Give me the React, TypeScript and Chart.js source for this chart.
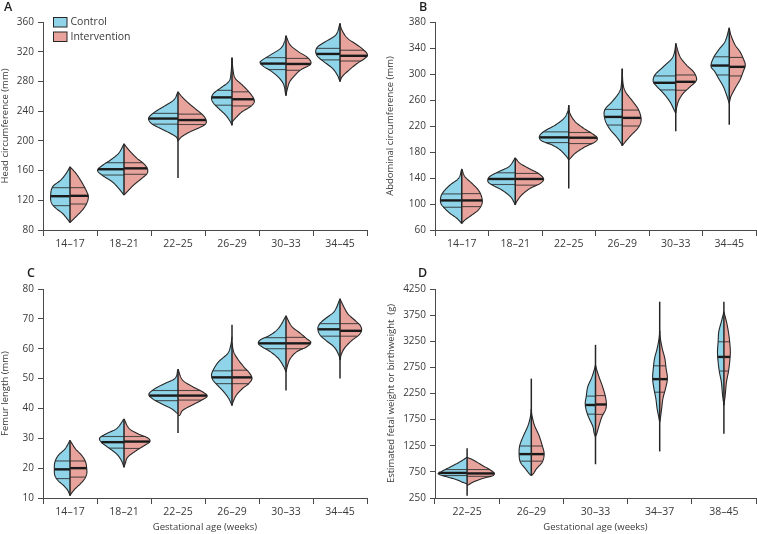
import React, { useEffect, useRef } from 'react';
import { Chart, registerables } from 'chart.js';

Chart.register(...registerables);

type Knot = [number, number]; // [value, half-width as fraction of category width]

const groupNames = ['Control', 'Intervention'];
const groupFills = ['#8FD4E8', '#E8A49C'];

// ---------- Panel A: head circumference ----------
const headCategories = ['14–17', '18–21', '22–25', '26–29', '30–33', '34–45'];
const headYTicks = [80, 120, 160, 200, 240, 280, 320, 360];
const headControl: Knot[][] = [
  [[90, 0], [95.7, 0.06], [102.4, 0.14], [109.2, 0.26], [115.9, 0.34], [124.9, 0.36], [138.3, 0.32], [147.3, 0.17], [156.3, 0.07], [165, 0]],
  [[127, 0], [136.1, 0.1], [145, 0.22], [154, 0.41], [160.5, 0.49], [167.5, 0.39], [174.2, 0.25], [183.2, 0.1], [196, 0]],
  [[200, 0], [205, 0.03], [210, 0.14], [216.9, 0.33], [222.7, 0.48], [228, 0.54], [232.6, 0.53], [239.3, 0.42], [246, 0.27], [255, 0.08], [266, 0]],
  [[221, 0], [225.8, 0.03], [234.8, 0.12], [243.8, 0.25], [250.5, 0.34], [257.2, 0.38], [264, 0.34], [270.7, 0.22], [279.7, 0.06], [290, 0.02], [312, 0]],
  [[261, 0], [264, 0.01], [275.2, 0.04], [284.2, 0.12], [293.1, 0.26], [299.9, 0.41], [305.3, 0.48], [308.8, 0.44], [315.6, 0.29], [324.5, 0.1], [333, 0.03], [341.6, 0]],
  [[280, 0], [288.6, 0.05], [297.6, 0.14], [306.6, 0.3], [313.3, 0.41], [320, 0.45], [326.8, 0.41], [333.5, 0.27], [342.5, 0.08], [358, 0]],
];
const headIntervention: Knot[][] = [
  [[90, 0], [97.9, 0.11], [106.9, 0.23], [115.9, 0.31], [124.9, 0.34], [131.6, 0.31], [142.8, 0.23], [156.3, 0.11], [165, 0]],
  [[127, 0], [131.6, 0.06], [140.6, 0.18], [149.5, 0.33], [156.3, 0.43], [163, 0.43], [169.7, 0.36], [176.5, 0.24], [187.7, 0.09], [196, 0]],
  [[200, 0], [205.6, 0.07], [212.4, 0.23], [218.2, 0.41], [222.7, 0.51], [228, 0.52], [234.8, 0.46], [241.5, 0.35], [250.5, 0.2], [259.5, 0.07], [266, 0]],
  [[221, 0], [225.8, 0.01], [232.5, 0.09], [239.3, 0.19], [246, 0.34], [251.8, 0.41], [257.2, 0.4], [266.2, 0.31], [275.2, 0.19], [284.2, 0.06], [295, 0.02], [312, 0]],
  [[261, 0], [268.5, 0.02], [279.7, 0.07], [288.6, 0.17], [295.4, 0.27], [302.1, 0.44], [306.6, 0.46], [313.3, 0.38], [320, 0.23], [329, 0.08], [341.6, 0]],
  [[280, 0], [286.4, 0.04], [295.4, 0.17], [304.3, 0.32], [311.1, 0.46], [315.6, 0.51], [322.3, 0.44], [329, 0.32], [338, 0.14], [350, 0.03], [358, 0]],
];
const headControlQuartiles = [[112.8, 125.5, 137], [154, 161.8, 170.6], [222.5, 230, 237], [248, 258.5, 268], [296, 304, 312], [309, 317, 324.5]];
const headInterventionQuartiles = [[115, 126, 137], [155, 163, 170.6], [222, 228, 236], [247, 256, 266], [295, 303.5, 311], [307.5, 314.5, 322]];
const headRange = [[90, 165], [127, 196], [150, 266], [221, 312], [261, 341.6], [280, 358]];

// ---------- Panel B: abdominal circumference ----------
const abdomenCategories = ['14–17', '18–21', '22–25', '26–29', '30–33', '34–45'];
const abdomenYTicks = [60, 100, 140, 180, 220, 260, 300, 340, 380];
const abdomenControl: Knot[][] = [
  [[70, 0], [77.9, 0.09], [85.6, 0.22], [93.3, 0.32], [101, 0.39], [111.3, 0.39], [119, 0.34], [129.2, 0.22], [139.5, 0.06], [154, 0]],
  [[98.5, 0], [103.6, 0.03], [111.3, 0.09], [121.5, 0.25], [129.2, 0.43], [134.4, 0.51], [142, 0.48], [149.7, 0.31], [157.4, 0.12], [171, 0]],
  [[168, 0], [172.8, 0.04], [183.1, 0.16], [190.8, 0.31], [196.9, 0.5], [203.6, 0.55], [211.3, 0.47], [221.5, 0.25], [231.8, 0.09], [242, 0.02], [252, 0]],
  [[189.7, 0], [193.3, 0.02], [203.6, 0.11], [213.8, 0.22], [226.7, 0.31], [239.5, 0.34], [247.2, 0.31], [257.4, 0.19], [272.8, 0.05], [285, 0.015], [308, 0]],
  [[239.5, 0], [244.6, 0.03], [257.4, 0.11], [270.3, 0.23], [280.5, 0.35], [288.2, 0.42], [298.5, 0.39], [311.3, 0.23], [324.1, 0.07], [335, 0.02], [347, 0]],
  [[254.9, 0], [267.7, 0.05], [280.5, 0.11], [293.3, 0.2], [303.6, 0.27], [311.3, 0.34], [324.1, 0.3], [336.9, 0.2], [349.7, 0.08], [371, 0]],
];
const abdomenIntervention: Knot[][] = [
  [[70, 0], [75.4, 0.06], [83.1, 0.19], [90.8, 0.31], [101, 0.38], [111.3, 0.37], [121.5, 0.31], [131.8, 0.19], [142, 0.06], [154, 0]],
  [[98.5, 0], [104, 0.03], [113.8, 0.12], [124.1, 0.28], [131.8, 0.47], [138.5, 0.53], [147.2, 0.43], [154.9, 0.25], [162.6, 0.09], [171, 0]],
  [[168, 0], [170.3, 0.03], [178, 0.12], [188.2, 0.31], [195.9, 0.5], [202, 0.53], [208.7, 0.43], [216.4, 0.28], [226.7, 0.12], [240, 0.02], [252, 0]],
  [[189.7, 0], [195.9, 0.06], [206.2, 0.17], [216.4, 0.29], [226.7, 0.35], [236.9, 0.34], [247.2, 0.29], [257.4, 0.2], [272.8, 0.06], [285, 0.015], [308, 0]],
  [[239.5, 0], [249.7, 0.02], [260, 0.06], [270.3, 0.14], [280.5, 0.27], [288.2, 0.37], [293.3, 0.39], [303.6, 0.33], [313.8, 0.2], [326.7, 0.08], [347, 0]],
  [[254.9, 0], [265.1, 0.03], [278, 0.11], [290.8, 0.2], [303.6, 0.26], [313.8, 0.3], [324.1, 0.26], [334.4, 0.2], [344.6, 0.11], [360, 0.03], [371, 0]],
];
const abdomenControlQuartiles = [[95, 105.5, 115.5], [130, 138.5, 148], [194.5, 202.5, 211], [221.5, 234, 245.5], [275.5, 286.5, 297], [298.5, 313, 326.5]];
const abdomenInterventionQuartiles = [[96, 105.5, 116], [129, 138.5, 147], [193, 202, 210], [220, 232.5, 244.5], [275, 288, 298.5], [297, 311, 325.5]];
const abdomenRange = [[70, 154], [98.5, 171], [124, 252], [189.7, 308], [212, 347], [222, 371]];

// ---------- Panel C: femur length ----------
const femurCategories = ['14–17', '18–21', '22–25', '26–29', '30–33', '34–45'];
const femurYTicks = [10, 20, 30, 40, 50, 60, 70, 80];
const femurControl: Knot[][] = [
  [[10.8, 0], [12.5, 0.04], [14.2, 0.12], [15.8, 0.22], [17.5, 0.28], [19.75, 0.29], [22, 0.28], [24.2, 0.22], [26.5, 0.09], [29.3, 0]],
  [[20.3, 0], [22.6, 0.05], [24.8, 0.14], [27, 0.3], [28.7, 0.42], [30.1, 0.45], [31.5, 0.33], [33.2, 0.14], [36.5, 0]],
  [[38.2, 0], [38.6, 0.03], [39.9, 0.12], [41.6, 0.31], [43.1, 0.46], [44.7, 0.54], [46.6, 0.43], [48.3, 0.25], [50, 0.06], [53.1, 0]],
  [[41, 0], [43.3, 0.06], [45.5, 0.15], [47.8, 0.27], [49.4, 0.35], [51.1, 0.38], [52.8, 0.35], [55.6, 0.25], [58.4, 0.08], [61, 0.025], [64, 0]],
  [[52.2, 0], [53.9, 0.04], [56.7, 0.14], [59, 0.29], [60.6, 0.44], [61.7, 0.51], [62.9, 0.48], [64.6, 0.29], [66.8, 0.14], [71, 0]],
  [[56.2, 0], [57.8, 0.02], [60.6, 0.11], [62.9, 0.27], [64.6, 0.37], [66.8, 0.41], [68.5, 0.37], [70.1, 0.27], [72.4, 0.11], [76.7, 0]],
];
const femurIntervention: Knot[][] = [
  [[10.8, 0], [11.4, 0.02], [13, 0.09], [14.7, 0.19], [16.4, 0.27], [18.1, 0.31], [19.75, 0.31], [22, 0.29], [24.2, 0.22], [26.5, 0.1], [29.3, 0]],
  [[20.3, 0], [21.4, 0.02], [23.7, 0.07], [25.9, 0.23], [27.6, 0.38], [28.9, 0.48], [30.1, 0.44], [31.5, 0.26], [33.2, 0.1], [36.5, 0]],
  [[37.5, 0], [37.7, 0.03], [39.4, 0.09], [41, 0.25], [42.7, 0.43], [44.1, 0.54], [45.5, 0.46], [47.2, 0.28], [49.4, 0.09], [53.1, 0]],
  [[41, 0], [42.2, 0.02], [44.4, 0.08], [46.6, 0.19], [48.3, 0.31], [50, 0.37], [51.7, 0.33], [53.9, 0.22], [56.7, 0.1], [59, 0.03], [62, 0]],
  [[52.2, 0], [54.5, 0.03], [56.7, 0.08], [59, 0.2], [60.6, 0.38], [62.1, 0.46], [63.4, 0.38], [65.1, 0.27], [67.4, 0.11], [71, 0]],
  [[56.2, 0], [58.4, 0.03], [60.6, 0.1], [62.9, 0.23], [64.6, 0.35], [66.2, 0.4], [67.9, 0.37], [69.6, 0.27], [71.8, 0.14], [76.7, 0]],
];
const femurControlQuartiles = [[16.5, 19.6, 22.4], [26.7, 28.7, 30.6], [42.6, 44.3, 46], [48.3, 50.4, 52.6], [60, 61.8, 63.7], [64.2, 66.5, 68.4]];
const femurInterventionQuartiles = [[17, 20, 22.4], [26.6, 28.9, 30.6], [42.8, 44.3, 46], [48.3, 50.4, 52.8], [60, 61.8, 63.8], [64.2, 66, 68.4]];
const femurRange = [[10.8, 29.3], [20.3, 36.5], [31.8, 53.1], [41, 68], [46, 71], [50, 76.7]];

// ---------- Panel D: estimated fetal weight or birthweight ----------
const weightCategories = ['22–25', '26–29', '30–33', '34–37', '38–45'];
const weightYTicks = [250, 750, 1250, 1750, 2250, 2750, 3250, 3750, 4250];
const weightControl: Knot[][] = [
  [[519, 0], [551, 0.07], [603, 0.17], [667, 0.35], [711, 0.45], [756, 0.4], [839, 0.27], [935, 0.12], [1031, 0]],
  [[679, 0], [711, 0.03], [807, 0.09], [935, 0.17], [1095, 0.19], [1255, 0.18], [1447, 0.12], [1639, 0.05], [1831, 0.01], [1950, 0]],
  [[1421, 0], [1485, 0.02], [1613, 0.04], [1805, 0.11], [1933, 0.145], [2061, 0.16], [2189, 0.145], [2381, 0.12], [2550, 0.06], [2701, 0.02], [2800, 0]],
  [[1703, 0], [1767, 0.01], [1959, 0.04], [2151, 0.06], [2343, 0.09], [2535, 0.11], [2727, 0.1], [2919, 0.08], [3111, 0.04], [3303, 0.01], [3450, 0]],
  [[2023, 0], [2215, 0.02], [2471, 0.04], [2663, 0.07], [2855, 0.09], [3047, 0.1], [3239, 0.09], [3431, 0.08], [3623, 0.04], [3815, 0]],
];
const weightIntervention: Knot[][] = [
  [[487, 0], [551, 0.09], [615, 0.22], [679, 0.4], [731, 0.42], [795, 0.35], [871, 0.24], [967, 0.11], [1031, 0]],
  [[679, 0], [711, 0.03], [807, 0.08], [935, 0.17], [1095, 0.2], [1255, 0.17], [1447, 0.12], [1639, 0.05], [1831, 0.01], [1950, 0]],
  [[1421, 0], [1485, 0.02], [1613, 0.05], [1805, 0.1], [1933, 0.155], [2029, 0.17], [2189, 0.155], [2381, 0.11], [2550, 0.06], [2701, 0.02], [2800, 0]],
  [[1703, 0], [1767, 0.01], [1959, 0.03], [2151, 0.05], [2343, 0.09], [2535, 0.12], [2727, 0.1], [2919, 0.08], [3111, 0.04], [3303, 0.01], [3450, 0]],
  [[2023, 0], [2215, 0.02], [2471, 0.04], [2663, 0.07], [2855, 0.09], [3047, 0.1], [3239, 0.09], [3431, 0.07], [3623, 0.04], [3815, 0]],
];
const weightControlQuartiles = [[680, 730, 795], [955, 1090, 1245], [1855, 2030, 2200], [2275, 2525, 2780], [2680, 2950, 3240]];
const weightInterventionQuartiles = [[665, 720, 795], [955, 1090, 1245], [1850, 2040, 2210], [2275, 2525, 2780], [2680, 2950, 3240]];
const weightRange = [[295, 1200], [679, 2535], [896, 3181], [1141, 4007], [1479, 4007]];

// ---------- styling ----------
const FONT = "'Open Sans', 'Noto Sans', sans-serif";
const INK = '#262626';
const AXIS = '#4a4a4a';
const TEXT = '#3a3a3a';

interface Panel {
  letter: string;
  letterPos: [number, number];
  categories: string[];
  yTicks: number[];
  yTitle: string;
  yTitlePad: number;
  xTitle?: string;
  control: Knot[][];
  intervention: Knot[][];
  controlQ: number[][];
  interventionQ: number[][];
  range: number[][];
  legend: boolean;
  box: { x: number; y: number; w: number; h: number };
  area: { left: number; top: number; right: number; bottom: number };
}

const panels: Panel[] = [
  {
    letter: 'A', letterPos: [4, 11], categories: headCategories, yTicks: headYTicks,
    yTitle: 'Head circumference (mm)', yTitlePad: 0,
    control: headControl, intervention: headIntervention,
    controlQ: headControlQuartiles, interventionQ: headInterventionQuartiles, range: headRange, legend: true,
    box: { x: 0, y: 0, w: 378, h: 260 }, area: { left: 43, top: 22, right: 367, bottom: 230 },
  },
  {
    letter: 'B', letterPos: [41, 11], categories: abdomenCategories, yTicks: abdomenYTicks,
    yTitle: 'Abdominal circumference (mm)', yTitlePad: 7,
    control: abdomenControl, intervention: abdomenIntervention,
    controlQ: abdomenControlQuartiles, interventionQ: abdomenInterventionQuartiles, range: abdomenRange, legend: false,
    box: { x: 378, y: 0, w: 379, h: 260 }, area: { left: 57, top: 22, right: 378, bottom: 230 },
  },
  {
    letter: 'C', letterPos: [27, 17], categories: femurCategories, yTicks: femurYTicks,
    yTitle: 'Femur length (mm)', yTitlePad: 0, xTitle: 'Gestational age (weeks)',
    control: femurControl, intervention: femurIntervention,
    controlQ: femurControlQuartiles, interventionQ: femurInterventionQuartiles, range: femurRange, legend: false,
    box: { x: 0, y: 260, w: 378, h: 274 }, area: { left: 43, top: 29, right: 367, bottom: 238 },
  },
  {
    letter: 'D', letterPos: [40, 17], categories: weightCategories, yTicks: weightYTicks,
    yTitle: 'Estimated fetal weight or birthweight  (g)', yTitlePad: 8, xTitle: 'Gestational age (weeks)',
    control: weightControl, intervention: weightIntervention,
    controlQ: weightControlQuartiles, interventionQ: weightInterventionQuartiles, range: weightRange, legend: false,
    box: { x: 378, y: 260, w: 379, h: 274 }, area: { left: 57, top: 29, right: 378, bottom: 238 },
  },
];

// Smooth density profile (cubic Hermite through the knots)
function widthAt(profile: Knot[], v: number): number {
  const n = profile.length;
  if (v <= profile[0][0] || v >= profile[n - 1][0]) return 0;
  let i = 0;
  while (i < n - 2 && v > profile[i + 1][0]) i++;
  const slope = (k: number) => {
    if (k === 0) return (profile[1][1] - profile[0][1]) / (profile[1][0] - profile[0][0]);
    if (k === n - 1) return (profile[n - 1][1] - profile[n - 2][1]) / (profile[n - 1][0] - profile[n - 2][0]);
    return (profile[k + 1][1] - profile[k - 1][1]) / (profile[k + 1][0] - profile[k - 1][0]);
  };
  const [x0, y0] = profile[i];
  const [x1, y1] = profile[i + 1];
  const h = x1 - x0;
  const t = (v - x0) / h;
  const m0 = slope(i) * h;
  const m1 = slope(i + 1) * h;
  const t2 = t * t;
  const t3 = t2 * t;
  const y = (2 * t3 - 3 * t2 + 1) * y0 + (t3 - 2 * t2 + t) * m0 + (-2 * t3 + 3 * t2) * y1 + (t3 - t2) * m1;
  return Math.max(0, y);
}

const splitViolinPlugin = {
  id: 'splitViolins',
  afterDatasetsDraw(chart: any, _args: any, opts: any) {
    const p: Panel = opts.panel;
    if (!p) return;
    const ctx: CanvasRenderingContext2D = chart.ctx;
    const xs = chart.scales.x;
    const ys = chart.scales.y;
    const n = p.categories.length;
    const catW = (xs.right - xs.left) / n;
    ctx.save();
    ctx.lineJoin = 'round';
    ctx.lineCap = 'butt';
    for (let i = 0; i < n; i++) {
      const cx = xs.getPixelForValue(i);
      const halves = [p.control[i], p.intervention[i]];
      const quarts = [p.controlQ[i], p.interventionQ[i]];
      halves.forEach((prof, g) => {
        const sign = g === 0 ? -1 : 1;
        const v0 = prof[0][0];
        const v1 = prof[prof.length - 1][0];
        const N = 120;
        const pts: [number, number][] = [];
        for (let k = 0; k <= N; k++) {
          const v = v0 + ((v1 - v0) * k) / N;
          pts.push([cx + sign * widthAt(prof, v) * catW, ys.getPixelForValue(v)]);
        }
        ctx.beginPath();
        ctx.moveTo(cx, pts[0][1]);
        pts.forEach(([px, py]) => ctx.lineTo(px, py));
        ctx.lineTo(cx, pts[pts.length - 1][1]);
        ctx.closePath();
        ctx.fillStyle = groupFills[g];
        ctx.fill();
        const [q1, med, q3] = quarts[g];
        [q1, q3].forEach((q) => {
          const w = widthAt(prof, q) * catW;
          const py = ys.getPixelForValue(q);
          ctx.beginPath();
          ctx.moveTo(cx, py);
          ctx.lineTo(cx + sign * w, py);
          ctx.strokeStyle = 'rgba(45,45,45,0.8)';
          ctx.lineWidth = 1.1;
          ctx.stroke();
        });
        {
          const w = widthAt(prof, med) * catW;
          const py = ys.getPixelForValue(med);
          ctx.beginPath();
          ctx.moveTo(cx, py);
          ctx.lineTo(cx + sign * w, py);
          ctx.strokeStyle = '#1a1a1a';
          ctx.lineWidth = 2.4;
          ctx.stroke();
        }
        ctx.beginPath();
        pts.forEach(([px, py], k) => (k === 0 ? ctx.moveTo(px, py) : ctx.lineTo(px, py)));
        ctx.strokeStyle = INK;
        ctx.lineWidth = 1.1;
        ctx.stroke();
      });
      const [lo, hi] = p.range[i];
      ctx.beginPath();
      ctx.moveTo(cx, ys.getPixelForValue(lo));
      ctx.lineTo(cx, ys.getPixelForValue(hi));
      ctx.strokeStyle = INK;
      ctx.lineWidth = 1.5;
      ctx.stroke();
    }
    ctx.restore();
  },
  afterDraw(chart: any, _args: any, opts: any) {
    const p: Panel = opts.panel;
    if (!p) return;
    const ctx: CanvasRenderingContext2D = chart.ctx;
    const area = chart.chartArea;
    ctx.save();
    ctx.fillStyle = '#1e1e1e';
    ctx.font = `600 12.5px ${FONT}`;
    ctx.textBaseline = 'alphabetic';
    ctx.textAlign = 'left';
    ctx.fillText(p.letter, p.letterPos[0], p.letterPos[1]);
    if (p.legend) {
      groupNames.forEach((name, g) => {
        const bx = area.left + 10.5;
        const by = area.top - 4.5 + g * 14.5;
        ctx.fillStyle = groupFills[g];
        ctx.fillRect(bx, by, 13.5, 9.5);
        ctx.strokeStyle = INK;
        ctx.lineWidth = 1;
        ctx.strokeRect(bx, by, 13.5, 9.5);
        ctx.fillStyle = TEXT;
        ctx.font = `10.5px ${FONT}`;
        ctx.textBaseline = 'middle';
        ctx.fillText(name, bx + 17, by + 5);
      });
    }
    ctx.restore();
  },
};

function PanelChart({ panel }: { panel: Panel }) {
  const ref = useRef<HTMLCanvasElement>(null);
  useEffect(() => {
    const canvas = ref.current;
    if (!canvas) return;
    const yt = panel.yTicks;
    const chart = new Chart(canvas, {
      type: 'line',
      data: { labels: panel.categories, datasets: [] },
      plugins: [splitViolinPlugin as any],
      options: {
        responsive: false,
        animation: false,
        devicePixelRatio: 1,
        layout: {
          padding: { left: 0, top: panel.area.top, right: panel.box.w - panel.area.right, bottom: 0 },
        },
        plugins: {
          legend: { display: false },
          tooltip: { enabled: false },
          title: { display: false },
          splitViolins: { panel },
        } as any,
        scales: {
          x: {
            type: 'category',
            offset: true,
            grid: { offset: true, drawOnChartArea: false, drawTicks: true, tickLength: 6, color: AXIS, lineWidth: 1 },
            border: { display: true, color: AXIS, width: 1 },
            ticks: { color: TEXT, font: { family: FONT, size: 10.5 }, padding: 2, maxRotation: 0, autoSkip: false },
            title: panel.xTitle
              ? { display: true, text: panel.xTitle, color: TEXT, font: { family: FONT, size: 9.5 }, padding: { top: 0, bottom: 1 } }
              : { display: false },
            afterFit: (s: any) => {
              s.height = panel.box.h - panel.area.bottom;
            },
          } as any,
          y: {
            type: 'linear',
            min: yt[0],
            max: yt[yt.length - 1],
            ticks: {
              stepSize: yt[1] - yt[0],
              color: TEXT,
              font: { family: FONT, size: 10 },
              padding: 4,
              callback: (v: any) => String(v),
            },
            grid: { drawOnChartArea: false, drawTicks: true, tickLength: 5, color: AXIS, lineWidth: 1 },
            border: { display: true, color: AXIS, width: 1 },
            title: { display: true, text: panel.yTitle, color: TEXT, font: { family: FONT, size: 9.5 }, padding: { top: panel.yTitlePad, bottom: 0 } },
            afterFit: (s: any) => {
              s.width = panel.area.left;
            },
          } as any,
        },
      },
    });
    return () => chart.destroy();
  }, [panel]);
  return (
    <canvas
      ref={ref}
      width={panel.box.w}
      height={panel.box.h}
      style={{ position: 'absolute', left: panel.box.x, top: panel.box.y, width: panel.box.w, height: panel.box.h }}
    />
  );
}

export default function App() {
  return (
    <div style={{ position: 'absolute', left: 0, top: 0, width: 757, height: 534, background: '#ffffff' }}>
      {panels.map((p) => (
        <PanelChart key={p.letter} panel={p} />
      ))}
    </div>
  );
}
